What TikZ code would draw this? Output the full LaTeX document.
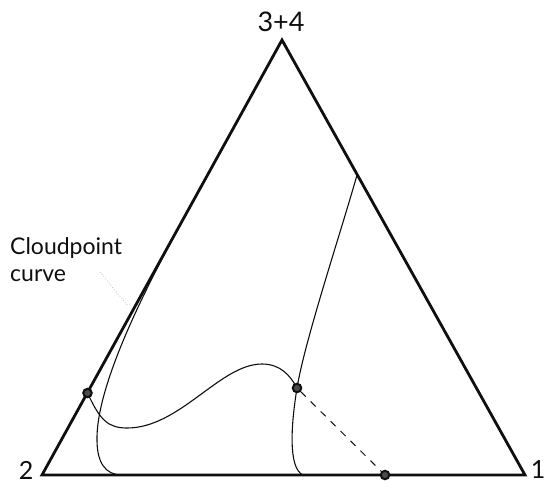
\documentclass[tikz,border=0pt]{standalone}
\usepackage{fontspec}
\setmainfont{Lato}
\usepackage{tikz}
\usetikzlibrary{calc}
\definecolor{ink}{RGB}{15,15,15}
\definecolor{faint}{RGB}{190,190,190}

\begin{document}
\begin{tikzpicture}[x=1pt, y=-1pt,
    side/.style={draw=ink, line width=2.8pt, line join=miter},
    curveline/.style={draw=ink, line width=1.1pt},
    tieline/.style={draw=ink, line width=1pt, dash pattern=on 7pt off 7pt},
    dotmark/.style={circle, fill=ink!75, draw=ink, line width=2pt, inner sep=0pt, minimum size=8.5pt},
    cornerlabel/.style={font=\fontsize{27}{30}\selectfont, text=ink, inner sep=0pt}]
    \useasboundingbox (0,0) rectangle (546,488);

    % corners of the triangle (y runs downwards, as in the scan)
    \coordinate (top) at (282,40);
    \coordinate (left) at (42,475);
    \coordinate (right) at (525,475);

    % points on the curves
    \coordinate (dL) at (87.5,393);
    \coordinate (dM) at (297,388);
    \coordinate (dB) at (385,475);
    \coordinate (pR) at (357,175);
    \coordinate (cpTop) at (185,216);
    \coordinate (cpFoot) at (97,440);
    \coordinate (cpEnd) at (122,475);
    \coordinate (rFoot) at (303,475);
    \coordinate (sMin) at (127,428);
    \coordinate (sPeak) at (262,364);
    \coordinate (lead1) at (100,272);
    \coordinate (lead2) at (128,306);

    % triangle
    \draw[side] (left) -- (top) -- (right) -- cycle;

    % corner labels
    \node[cornerlabel] (lbl34) at (281,22) {3+4};
    \node[cornerlabel, font=\fontsize{25}{28}\selectfont] (lbl2) at (26,470) {2};
    \node[cornerlabel, font=\fontsize{25}{28}\selectfont] (lbl1) at (538,470) {1};

    % curve label with its faint leader
    \node[font=\fontsize{23}{27}\selectfont, text=ink, align=left, anchor=north west, inner sep=0pt] (cloud) at (10,237) {Cloudpoint\\curve};
    \draw[faint, dotted, line width=0.8pt] (lead1) -- (lead2);

    % cloudpoint curve, close to the left side
    \draw[curveline] (cpTop) .. controls (156,269) and (96,380) .. (cpFoot)
        .. controls (97,462) and (105,475) .. (cpEnd);

    % curve from the right side down to the base
    \draw[curveline] (pR) .. controls (340,235) and (305,340) .. (dM)
        .. controls (291,425) and (288,468) .. (rFoot);

    % S-shaped curve between the two points
    \draw[curveline] (dL) .. controls (100,420) and (108,428) .. (sMin)
        .. controls (180,428) and (220,364) .. (sPeak)
        .. controls (280,364) and (290,375) .. (dM);

    % points
    \node[dotmark] (pL) at (dL) {};
    \node[dotmark] (pM) at (dM) {};
    \node[dotmark] (pB) at (dB) {};

    % tie line
    \draw[tieline] (pM) -- (pB);
\end{tikzpicture}
\end{document}
